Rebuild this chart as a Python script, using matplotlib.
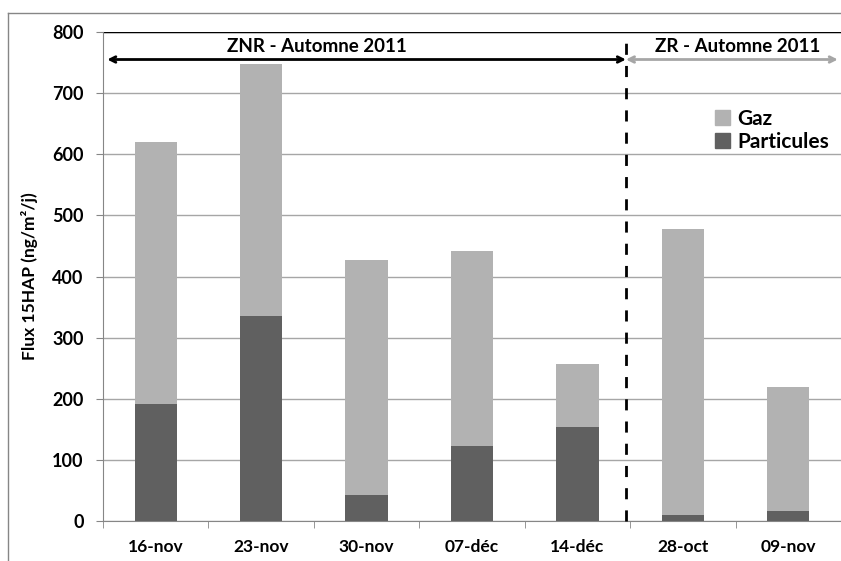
import numpy as np
import matplotlib.pyplot as plt
from matplotlib.lines import Line2D
from matplotlib.patches import Patch

plt.rcParams['font.family'] = ['Lato', 'DejaVu Sans']
plt.rcParams['font.weight'] = 'bold'

# sampling dates and fluxes (ng/m2/j)
dates = ['16-nov', '23-nov', '30-nov', '07-déc', '14-déc', '28-oct', '09-nov']
particules = [192, 335, 43, 123, 154, 10, 17]
total = [620, 748, 427, 441, 257, 477, 220]
gaz = [t - p for t, p in zip(total, particules)]

c_gaz = '#b2b2b2'
c_part = '#606060'

fig = plt.figure(figsize=(8.41, 5.61), dpi=100)
ax = fig.add_axes([103 / 841, 1 - 521 / 561, 1 - 103 / 841, (521 - 32) / 561])

x = np.arange(len(dates))
ax.bar(x, particules, width=0.4, color=c_part, zorder=3)
ax.bar(x, gaz, width=0.4, bottom=particules, color=c_gaz, zorder=3)

ax.set_xlim(-0.5, len(dates) - 0.5)
ax.set_ylim(0, 800)
ax.set_yticks(range(0, 801, 100))
ax.yaxis.grid(True, color='#a6a6a6', linewidth=1, zorder=0)
ax.axhline(800, color='black', linewidth=1, zorder=2)

ax.set_xticks(x)
ax.set_xticklabels(dates, fontsize=12.5, fontweight='bold')
ax.set_xticks(np.arange(-0.5, len(dates), 1), minor=True)
ax.tick_params(axis='x', which='major', length=0, pad=13)
ax.tick_params(axis='x', which='minor', length=5, color='#868686')
ax.tick_params(axis='y', length=5, color='#868686', labelsize=13, pad=9)
for lbl in ax.get_yticklabels():
    lbl.set_fontweight('bold')

for side in ['top', 'right']:
    ax.spines[side].set_visible(False)
ax.spines['left'].set_color('#868686')
ax.spines['bottom'].set_color('#868686')

ax.set_ylabel('Flux 15HAP (ng/m²/j)', fontsize=12.5, fontweight='bold', labelpad=10)

# separation between the two zones
xsep = 4.46
ax.plot([xsep, xsep], [0, 800], color='black', linewidth=2,
        linestyle=(0, (4, 4)), zorder=4, clip_on=False)

ax.annotate('', xy=(-0.46, 755), xytext=(xsep, 755),
            arrowprops=dict(arrowstyle='<->', color='black', lw=2,
                            shrinkA=0, shrinkB=0))
ax.annotate('', xy=(xsep, 755), xytext=(6.47, 755),
            arrowprops=dict(arrowstyle='<->', color='#a6a6a6', lw=2,
                            shrinkA=0, shrinkB=0))
ax.text(1.53, 762, 'ZNR - Automne 2011', ha='center', va='bottom',
        fontsize=13.5, fontweight='bold')
ax.text(5.52, 762, 'ZR - Automne 2011', ha='center', va='bottom',
        fontsize=13.5, fontweight='bold')

handles = [Patch(color=c_gaz), Patch(color=c_part)]
ax.legend(handles, ['Gaz', 'Particules'], loc='upper right',
          bbox_to_anchor=(0.995, 0.86), borderaxespad=0, frameon=False,
          handlelength=0.7, handleheight=0.7, handletextpad=0.35,
          labelspacing=0.15, prop={'weight': 'bold', 'size': 15})

# outer chart frame
fig.add_artist(Line2D([8 / 841, 8 / 841], [0, 1 - 13 / 561],
                      color='#868686', linewidth=1))
fig.add_artist(Line2D([8 / 841, 1], [1 - 13 / 561, 1 - 13 / 561],
                      color='#868686', linewidth=1))

fig.savefig('out.png', dpi=100)
